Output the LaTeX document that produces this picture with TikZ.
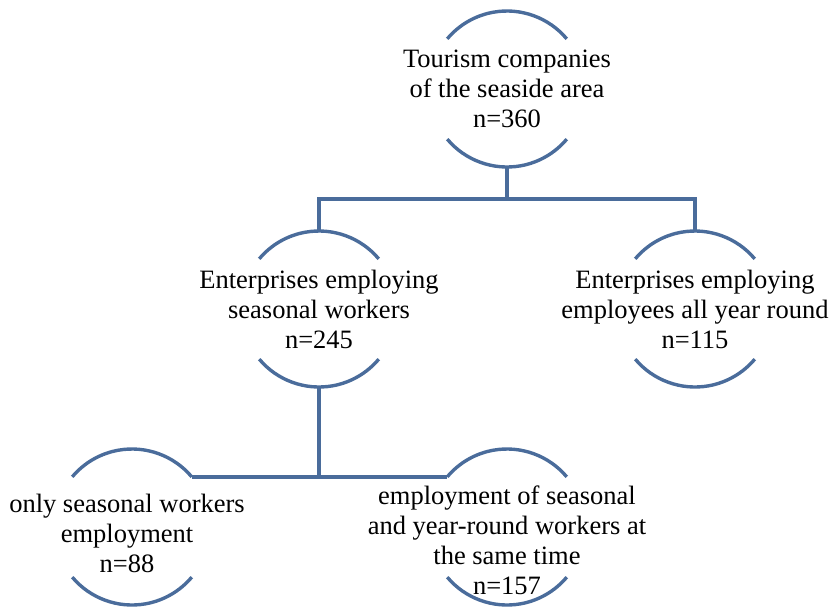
\documentclass[tikz,border=0pt]{standalone}
\usepackage{fontspec}
\setmainfont{Liberation Serif}
\definecolor{arcblue}{RGB}{74,108,155}
\tikzset{
	ring/.style={circle,minimum size=156pt,inner sep=0pt,outer sep=0pt},
	txt/.style={align=center,inner sep=0pt,font=\fontsize{26.5}{30}\selectfont},
	link/.style={draw=arcblue,line width=3.4pt},
}
\begin{document}
\begin{tikzpicture}[x=1pt,y=-1pt]
	\useasboundingbox (0,0) rectangle (831,606) ;
	% the five groups
	\node[ring,label={[txt]center:Tourism companies\\of the seaside area\\n=360}] (tour) at (507,89) {} ;
	\node[ring,label={[txt]center:Enterprises employing\\seasonal workers\\n=245}] (sea) at (319,309) {} ;
	\node[ring,label={[txt]center:Enterprises employing\\employees all year round\\n=115}] (year) at (695,309) {} ;
	\node[ring,label={[txt,xshift=-5pt,yshift=-6pt]center:only seasonal workers\\employment\\n=88}] (only) at (132,527) {} ;
	\node[ring,label={[txt,yshift=-13pt]center:employment of seasonal\\and year-round workers at\\the same time\\n=157}] (both) at (507,527) {} ;
	\foreach \n in {tour,sea,year,only,both}{
		\draw[link] (\n.40) arc[start angle=40,end angle=140,radius=78pt] ;
		\draw[link] (\n.220) arc[start angle=220,end angle=320,radius=78pt] ;
	}
	% connectors
	\draw[link] (tour.south) -- ++(0,32) coordinate (split) -| (sea.north) ;
	\draw[link] (split) -| (year.north) ;
	\draw[link] (sea.south) |- (only.40) ;
	\draw[link] (sea.south) |- (both.140) ;
\end{tikzpicture}
\end{document}
